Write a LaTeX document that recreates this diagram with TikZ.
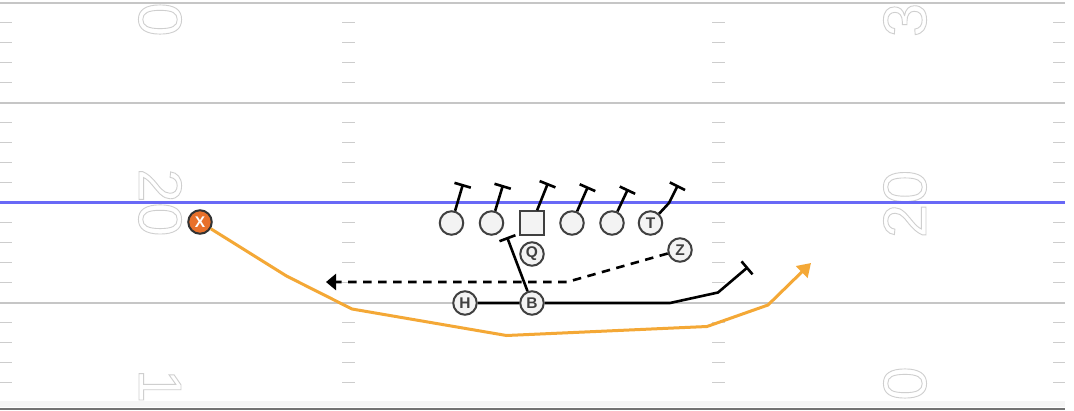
\documentclass[tikz,border=0pt]{standalone}
\usepackage{fontspec}
\setmainfont{Liberation Sans}
\usetikzlibrary{arrows.meta}

\definecolor{fieldline}{HTML}{C6C6C6}
\definecolor{hashgray}{HTML}{CDCDCD}
\definecolor{scrimblue}{HTML}{6868F6}
\definecolor{numgray}{HTML}{CFCFCF}
\definecolor{playergray}{HTML}{404040}
\definecolor{playerfill}{HTML}{F3F3F3}
\definecolor{xorange}{HTML}{E8702A}
\definecolor{routeorange}{HTML}{F4A836}

\newcommand{\outlinenum}[1]{\special{pdf:literal direct 1 Tr 0.9 w}#1\special{pdf:literal direct 0 Tr}}

\begin{document}
\begin{tikzpicture}[x=1pt, y=-1pt,
    yardline/.style={fieldline, line width=2pt},
    hash/.style={hashgray, line width=1.5pt},
    yardnum/.style={text=numgray, inner sep=0pt, font=\fontsize{61}{61}\selectfont},
    player/.style={circle, draw=playergray, fill=playerfill, line width=2pt, minimum size=23.5pt, inner sep=0pt, text=playergray, font=\bfseries\fontsize{15.5}{15.5}\selectfont},
    snapper/.style={player, rectangle},
    xplayer/.style={player, fill=xorange, draw=black!80, text=white},
    block/.style={black, line width=2.6pt, -{Bar[width=17pt, line width=2.6pt]}},
    motion/.style={black, line width=2.6pt, dash pattern=on 8.5pt off 6.5pt, -{Triangle[length=10pt, width=16pt]}},
    route/.style={routeorange, line width=3pt, -{Triangle[length=13pt, width=16pt]}}]

    \useasboundingbox (0,0) rectangle (1074,410);
    \clip (0,0) rectangle (1074,410);
    \fill[white] (0,0) rectangle (1074,410);

    % field
    \foreach \y in {2.5,102.5,302.5}
        \draw[yardline] (0,\y) -- (1065,\y);
    \fill[black!4] (0,401) rectangle (1065,407);
    \draw[black!55, line width=2pt] (0,409) -- (1065,409);
    \foreach \k in {0,100,200,300}
        \foreach \j in {20,40,60,80}
            \foreach \xa/\xb in {0/12, 342/355, 712/725, 1053/1065}
                \draw[hash] (\xa,2.5+\k+\j) -- (\xb,2.5+\k+\j);

    \node[yardnum, rotate=-90] (L0) at (160,19.5) {\outlinenum{0}};
    \node[yardnum, rotate=-90] (L20) at (160,202.5) {\outlinenum{20}};
    \node[yardnum, rotate=-90] (L1) at (160,386) {\outlinenum{1}};
    \node[yardnum, rotate=90] (R3) at (905,20) {\outlinenum{3}};
    \node[yardnum, rotate=90] (R20) at (905,204) {\outlinenum{20}};
    \node[yardnum, rotate=90] (R0) at (905,383.5) {\outlinenum{0}};

    \draw[scrimblue, line width=3pt] (0,202.5) -- (1065,202.5);

    % players
    \node[player] (LT) at (451.5,223) {};
    \node[player] (LG) at (491.5,223) {};
    \node[snapper] (C) at (532,223) {};
    \node[player] (RG) at (572,223) {};
    \node[player] (RT) at (612,223) {};
    \node[player] (T) at (650.5,223) {T};
    \node[player] (Q) at (532,254) {Q};
    \node[player] (Z) at (680,250) {Z};
    \node[player] (H) at (465,303) {H};
    \node[player] (B) at (532,303) {B};
    \node[xplayer] (X) at (200,222) {X};

    % blocks
    \coordinate (LTb) at (463,184);
    \coordinate (LGb) at (503,185);
    \coordinate (Cb) at (548,183);
    \coordinate (RGb) at (588,186.5);
    \coordinate (RTb) at (628,189);
    \coordinate (Tm) at (669,203);
    \coordinate (Tb) at (678,185);
    \coordinate (Bb) at (507,237);
    \draw[block] (LT) -- (LTb);
    \draw[block] (LG) -- (LGb);
    \draw[block] (C) -- (Cb);
    \draw[block] (RG) -- (RGb);
    \draw[block] (RT) -- (RTb);
    \draw[block] (T) -- (Tm) -- (Tb);
    \draw[block] (B) -- (Bb);

    % H route
    \coordinate (H1) at (670,303);
    \coordinate (H2) at (718,292.5);
    \coordinate (Hb) at (748,267);
    \draw[block] (H) -- (B) -- (H1) -- (H2) -- (Hb);

    % Z motion
    \coordinate (Z1) at (567,282);
    \coordinate (Ze) at (326,282);
    \draw[motion] (Z) -- (Z1) -- (Ze);

    % X route
    \coordinate (X1) at (286.5,276);
    \coordinate (X2) at (352,309);
    \coordinate (X3) at (506.5,335.5);
    \coordinate (X4) at (707,326.5);
    \coordinate (X5) at (768,305);
    \coordinate (Xe) at (811,263);
    \draw[route] (X) -- (X1) -- (X2) -- (X3) -- (X4) -- (X5) -- (Xe);
\end{tikzpicture}
\end{document}
